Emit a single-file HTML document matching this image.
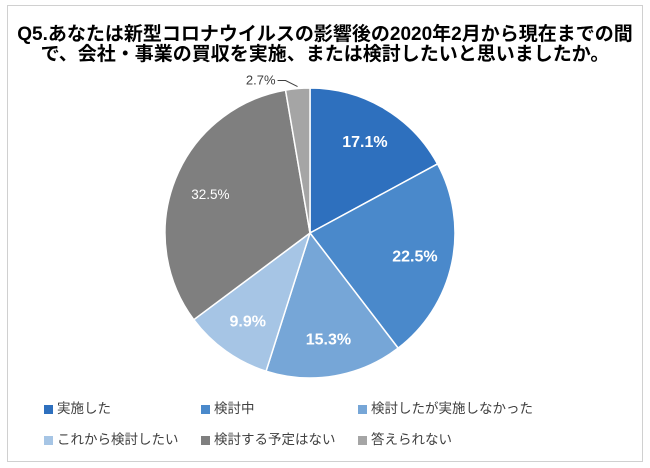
<!DOCTYPE html>
<html><head><meta charset="utf-8"><style>
body{margin:0;width:650px;height:468px;background:#fff;font-family:"Liberation Sans","Noto Sans CJK JP",sans-serif;overflow:hidden}
#frame{position:absolute;left:7px;top:5px;width:636px;height:457px;border:1px solid #d0d0d0;box-sizing:border-box}
#title{position:absolute;left:0;width:650px;top:25px;text-align:center;font-weight:bold;font-size:19px;line-height:20px;color:#000;white-space:nowrap}
.leg{position:absolute;font-size:13.5px;color:#404040;white-space:nowrap}
.leg span{display:inline-block;width:9px;height:9px;margin-right:4px;vertical-align:-1px}
</style></head><body>
<div id="frame"></div>
<div id="title">Q5.あなたは新型コロナウイルスの影響後の2020年2月から現在までの間<br>で、会社・事業の買収を実施、または検討したいと思いましたか。</div>
<svg id="pie" width="650" height="468" style="position:absolute;left:0;top:0"></svg>
<div class="leg" style="left:44px;top:397px"><span style="background:#2e70be"></span>実施した</div>
<div class="leg" style="left:201px;top:397px"><span style="background:#4a89cb"></span>検討中</div>
<div class="leg" style="left:358px;top:397px"><span style="background:#76a6d7"></span>検討したが実施しなかった</div>
<div class="leg" style="left:44px;top:428px"><span style="background:#a6c5e5"></span>これから検討したい</div>
<div class="leg" style="left:201px;top:428px"><span style="background:#7f7f7f"></span>検討する予定はない</div>
<div class="leg" style="left:358px;top:428px"><span style="background:#a5a5a5"></span>答えられない</div>
<script>
const categories=["実施した","検討中","検討したが実施しなかった","これから検討したい","検討する予定はない","答えられない"];
const values=[17.1,22.5,15.3,9.9,32.5,2.7];
const labels=["17.1%","22.5%","15.3%","9.9%","32.5%","2.7%"];
const colors=["#2e70be","#4a89cb","#76a6d7","#a6c5e5","#7f7f7f","#a5a5a5"];
const svg=document.getElementById('pie');
const NS="http://www.w3.org/2000/svg";
const cx=310,cy=233,r=145;
const total=values.reduce((a,b)=>a+b,0);
function pt(a,rr){return [cx+rr*Math.sin(a),cy-rr*Math.cos(a)];}
let acc=0;
values.forEach((v,i)=>{
  const a0=acc/total*2*Math.PI;acc+=v;const a1=acc/total*2*Math.PI;
  const p0=pt(a0,r),p1=pt(a1,r);
  const path=document.createElementNS(NS,'path');
  path.setAttribute('d',`M${cx},${cy}L${p0[0]},${p0[1]}A${r},${r} 0 ${a1-a0>Math.PI?1:0} 1 ${p1[0]},${p1[1]}Z`);
  path.setAttribute('fill',colors[i]);path.setAttribute('stroke','#fff');path.setAttribute('stroke-width','1.5');
  
  
  svg.appendChild(path);
  const am=(a0+a1)/2;
  const t=document.createElementNS(NS,'text');
  if(v<5){
    const e=pt(am,r+2),k=[e[0]-12,e[1]-6];
    const ln=document.createElementNS(NS,'polyline');
    ln.setAttribute('points',`${e[0]},${e[1]} ${k[0]},${k[1]} ${k[0]-8},${k[1]}`);
    ln.setAttribute('fill','none');ln.setAttribute('stroke','#404040');ln.setAttribute('stroke-width','1');
    
    
    svg.appendChild(ln);
    t.setAttribute('x',k[0]-10);t.setAttribute('y',k[1]+4);t.setAttribute('text-anchor','end');
    t.setAttribute('fill','#404040');t.setAttribute('font-size','13');
  }else{
    const p=pt(am,r*0.74);
    t.setAttribute('x',p[0]);t.setAttribute('y',p[1]+6);t.setAttribute('text-anchor','middle');
    const bold=i!==4;
    t.setAttribute('fill','#fff');t.setAttribute('font-size',bold?'16':'13.5');
    if(bold)t.setAttribute('font-weight','bold');
  }
  t.textContent=labels[i];
  
  
  svg.appendChild(t);
});
</script>
</body></html>
